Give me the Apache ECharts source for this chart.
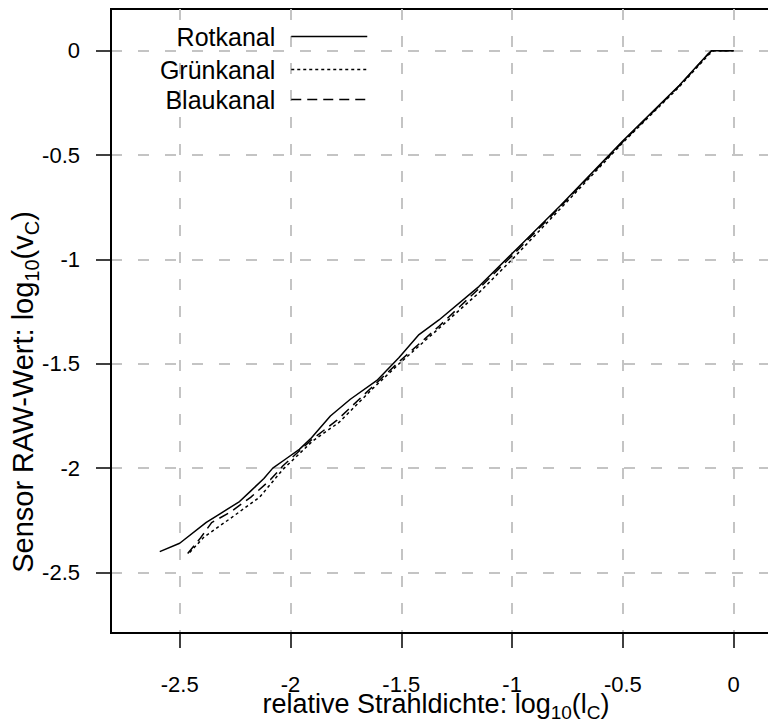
<!DOCTYPE html>
<html>
<head>
<meta charset="utf-8">
<title>Sensor RAW-Wert vs. relative Strahldichte</title>
<script src="https://cdn.jsdelivr.net/npm/echarts@6/dist/echarts.min.js"></script>
<style>
  html, body { margin: 0; padding: 0; background: #fff; }
  #chart { width: 768px; height: 721px; }
</style>
</head>
<body>
<div id="chart"></div>
<script>
// log10 of relative radiance (x) against log10 of the RAW sensor value (y), per colour channel
const rotX   = [-2.59, -2.50, -2.38, -2.32, -2.23, -2.18, -2.12, -2.08, -2.02, -1.96, -1.91, -1.82, -1.73, -1.61, -1.51, -1.42, -1.33, -1.15, -0.97, -0.785, -0.50, -0.245, -0.12, -0.10, -0.05, 0.00];
const rotY   = [-2.40, -2.36, -2.26, -2.22, -2.16, -2.11, -2.05, -2.00, -1.955, -1.91, -1.86, -1.75, -1.67, -1.58, -1.47, -1.36, -1.29, -1.13, -0.94, -0.745, -0.432, -0.165, -0.02, 0.00, 0.00, 0.00];

const gruenX = [-2.455, -2.39, -2.27, -2.14, -2.035, -1.90, -1.78, -1.63, -1.51, -1.33, -1.15, -1.00, -0.785, -0.50, -0.245, -0.113, -0.09, -0.04, 0.00];
const gruenY = [-2.404, -2.33, -2.24, -2.14, -2.007, -1.87, -1.78, -1.62, -1.50, -1.33, -1.16, -1.00, -0.76, -0.44, -0.172, -0.019, 0.00, 0.00, 0.00];

const blauX  = [-2.464, -2.41, -2.356, -2.27, -2.18, -2.09, -2.035, -1.90, -1.79, -1.63, -1.51, -1.33, -1.15, -0.97, -0.785, -0.50, -0.245, -0.117, -0.10, -0.05, 0.00];
const blauY  = [-2.409, -2.34, -2.261, -2.21, -2.14, -2.055, -1.99, -1.86, -1.77, -1.61, -1.49, -1.32, -1.14, -0.95, -0.75, -0.436, -0.168, -0.019, 0.00, 0.00, 0.00];

const tickValues = [-2.5, -2, -1.5, -1, -0.5, 0];
const channelNames = ['Rotkanal', 'Grünkanal', 'Blaukanal'];

// axis extents
const xRange = [-2.81, 0.2];
const yRange = [-2.79, 0.2];

function pairs(xs, ys) {
  return xs.map((x, i) => [x, ys[i]]);
}

const FONT = '"Liberation Sans", Arial, sans-serif';

function gridLine() {
  return { show: true, lineStyle: { color: '#c4c4c4', width: 2, type: [11, 16] } };
}

function tickStyle() {
  return { show: true, inside: false, length: 15, customValues: tickValues.slice(), lineStyle: { color: '#000', width: 1.5, type: 'solid' } };
}

function titleRich(size) {
  return {
    m: { fontFamily: FONT, fontSize: size, color: '#000', lineHeight: size + 2, verticalAlign: 'top' },
    s: { fontFamily: FONT, fontSize: Math.round(size * 0.7), color: '#000', lineHeight: Math.round(size * 0.7), verticalAlign: 'top', padding: [Math.round(size * 0.48), 0, 0, 0] }
  };
}

function legendFor(name, top) {
  return {
    data: [name],
    right: 400,
    top: top,
    padding: 0,
    align: 'right',
    itemWidth: 76,
    itemHeight: 14,
    selectedMode: false,
    itemStyle: { opacity: 0 },
    lineStyle: { width: 1.5 },
    textStyle: { fontFamily: FONT, fontSize: 25, color: '#000', padding: [0, 11, 0, 0] }
  };
}

const chart = echarts.init(document.getElementById('chart'), null, { renderer: 'svg' });

chart.setOption({
  animation: false,
  backgroundColor: '#fff',
  grid: {
    left: 111, top: 9, right: -10, bottom: 88,
    outerBoundsMode: 'none',
    show: true, borderColor: '#000', borderWidth: 2, backgroundColor: 'transparent'
  },
  legend: [
    legendFor(channelNames[0], 24),
    legendFor(channelNames[1], 57),
    legendFor(channelNames[2], 87)
  ],
  xAxis: {
    type: 'value',
    min: xRange[0],
    max: xRange[1],
    position: 'bottom',
    axisLine: { show: true, onZero: false, lineStyle: { color: '#000', width: 2, type: 'solid' } },
    axisTick: tickStyle(),
    axisLabel: { customValues: tickValues.slice(), margin: 40, fontFamily: FONT, fontSize: 22, color: '#000' },
    splitLine: gridLine(),
    name: '{m|relative Strahldichte: log}{s|10}{m|(l}{s|C}{m|)}',
    nameLocation: 'middle',
    nameGap: 57,
    nameMoveOverlap: false,
    nameTextStyle: { rich: titleRich(27), padding: [0, 17, 0, 0] }
  },
  yAxis: {
    type: 'value',
    min: yRange[0],
    max: yRange[1],
    position: 'left',
    axisLine: { show: true, onZero: false, lineStyle: { color: '#000', width: 2, type: 'solid' } },
    axisTick: tickStyle(),
    axisLabel: { customValues: tickValues.slice(), margin: 31, fontFamily: FONT, fontSize: 22, color: '#000' },
    splitLine: gridLine(),
    name: '{m|Sensor RAW-Wert: log}{s|10}{m|(v}{s|C}{m|)}',
    nameLocation: 'middle',
    nameGap: 72,
    nameMoveOverlap: false,
    nameRotate: 90,
    nameTextStyle: { rich: titleRich(29), padding: [0, 142, 0, 0] }
  },
  series: [
    {
      name: channelNames[0], type: 'line', symbol: 'none', data: pairs(rotX, rotY),
      lineStyle: { color: '#000', width: 1.5, type: 'solid' }, itemStyle: { color: '#000' }
    },
    {
      name: channelNames[1], type: 'line', symbol: 'none', data: pairs(gruenX, gruenY),
      lineStyle: { color: '#000', width: 1.5, type: [3, 3] }, itemStyle: { color: '#000' }
    },
    {
      name: channelNames[2], type: 'line', symbol: 'none', data: pairs(blauX, blauY),
      lineStyle: { color: '#000', width: 1.5, type: [10, 6] }, itemStyle: { color: '#000' }
    }
  ]
});
</script>
</body>
</html>
